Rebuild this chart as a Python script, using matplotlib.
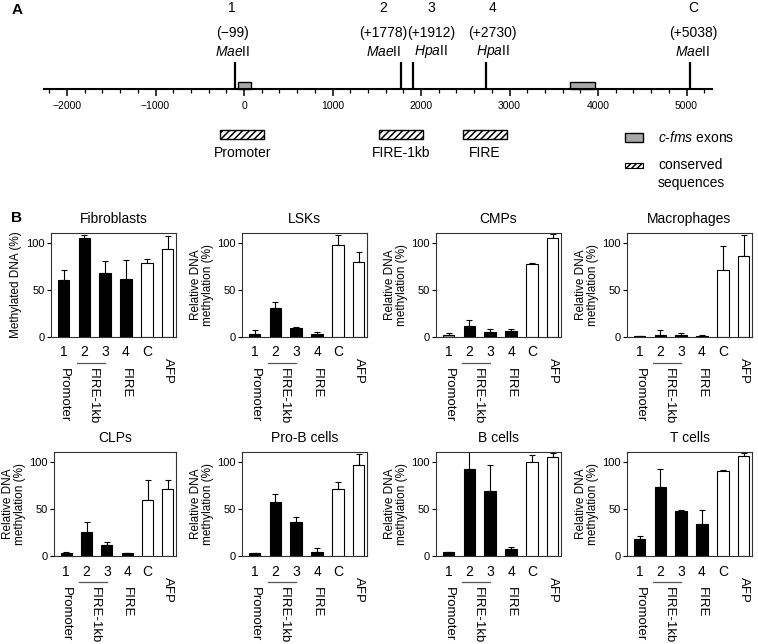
"""c-fms locus map (A) and methylation of the sites in sorted cell types (B)"""
import matplotlib.pyplot as plt
import matplotlib.patches as patches
from matplotlib.ticker import MultipleLocator

plt.rcParams['font.family'] = ['Liberation Sans', 'DejaVu Sans']
plt.rcParams['mathtext.fontset'] = 'custom'
plt.rcParams['mathtext.rm'] = 'Liberation Sans'
plt.rcParams['mathtext.it'] = 'Liberation Sans:italic'
plt.rcParams['hatch.linewidth'] = 1.1

# ============================================================================
# PANEL A DATA - locus map (bp relative to transcription start)
# ============================================================================
site_pos = [-99, 1778, 1912, 2730, 5038]
site_num = ['1', '2', '3', '4', 'C']
site_coord = ['(\u221299)', '(+1778)', '(+1912)', '(+2730)', '(+5038)']
site_enzyme = ['Mae', 'Mae', 'Hpa', 'Hpa', 'Mae']

exon_start = [-70, 3680]
exon_end = [80, 3965]

cons_start = [-270, 1520, 2470]
cons_end = [230, 2020, 2970]
cons_name = ['Promoter', 'FIRE-1kb', 'FIRE']

# ============================================================================
# PANEL B DATA - methylation (%) mean and upper error
# ============================================================================
bar_labels = ['1', '2', '3', '4', 'C', 'AFP']
cell_types = ['Fibroblasts', 'LSKs', 'CMPs', 'Macrophages',
              'CLPs', 'Pro-B cells', 'B cells', 'T cells']

fib_mean = [61, 106, 68, 62, 79, 94]
fib_err = [10, 3, 13, 20, 4, 14]
lsk_mean = [3.6, 30.6, 9.7, 3.6, 97.8, 80]
lsk_err = [3.4, 6.4, 1.1, 1.8, 11, 11]
cmp_mean = [1.8, 11.5, 5.4, 6, 78, 106]
cmp_err = [2.5, 7, 3.6, 3, 1, 4]
mac_mean = [1, 2.5, 2, 1, 71, 86]
mac_err = [0.5, 4.5, 2.3, 1, 26, 23]
clp_mean = [3, 26, 12, 3, 60, 72]
clp_err = [1, 10, 3, 0.6, 21, 9]
prob_mean = [3, 58, 36, 4, 72, 97.5]
prob_err = [0.6, 8, 6, 5, 7, 11.5]
bcell_mean = [4, 93, 69, 8, 100, 106]
bcell_err = [0, 20, 28, 2, 8, 4]
tcell_mean = [18.5, 74, 48, 34, 91, 107]
tcell_err = [2.5, 19, 1, 15, 1, 3]

all_mean = [fib_mean, lsk_mean, cmp_mean, mac_mean,
            clp_mean, prob_mean, bcell_mean, tcell_mean]
all_err = [fib_err, lsk_err, cmp_err, mac_err,
           clp_err, prob_err, bcell_err, tcell_err]

# ============================================================================
# FIGURE (laid out in pixels)
# ============================================================================
W, H = 758, 644
fig = plt.figure(figsize=(W / 100, H / 100), dpi=100)


def px_axes(left, top, right, bottom):
    return fig.add_axes([left / W, 1 - bottom / H, (right - left) / W, (bottom - top) / H])


PT = 0.72  # points per pixel at 100 dpi

# --- PANEL A -----------------------------------------------------------------
axA = px_axes(44, 0, 712, 89)
axA.set_xlim(-2260, 5288)
axA.set_ylim(0, 89)  # y in pixels above the axis line
for s in ['top', 'left', 'right']:
    axA.spines[s].set_visible(False)
axA.spines['bottom'].set_linewidth(1.5)
axA.patch.set_visible(False)
axA.set_yticks([])
axA.xaxis.set_major_locator(MultipleLocator(1000))
axA.xaxis.set_minor_locator(MultipleLocator(200))
axA.tick_params(axis='x', which='major', length=5, width=1.1, pad=3.5, labelsize=7.5)
axA.tick_params(axis='x', which='minor', length=3, width=0.9)

axA.vlines(site_pos, 0, 27, color='k', lw=1.6)
shift_px = [-3, -18, 18, 7, 3]
for pos, num, crd, enz, sh in zip(site_pos, site_num, site_coord, site_enzyme, shift_px):
    for txt, y in [(num, 81), (crd, 56), (r'$\mathit{%s}$II' % enz, 37)]:
        axA.annotate(txt, xy=(pos, y), xytext=(sh * PT, 0), textcoords='offset points',
                     ha='center', va='center', fontsize=10, annotation_clip=False)

for a, b in zip(exon_start, exon_end):
    axA.add_patch(patches.Rectangle((a, 0), b - a, 7, facecolor='#a8a8a8',
                                    edgecolor='k', lw=1, clip_on=False))

for a, b, name in zip(cons_start, cons_end, cons_name):
    axA.add_patch(patches.Rectangle((a, -50), b - a, 9, facecolor='white', edgecolor='k',
                                    hatch='/////', lw=1, clip_on=False))
    axA.text((a + b) / 2, -64, name, ha='center', va='center', fontsize=10)

# legend (pixel layout converted to data)
def bp(xpx):
    return (xpx - 244) / 0.0885

axA.add_patch(patches.Rectangle((bp(625), -53), bp(643) - bp(625), 9, facecolor='#a8a8a8',
                                edgecolor='k', lw=1, clip_on=False))
axA.text(bp(658), -48, r'$\mathit{c}$-$\mathit{fms}$ exons', ha='left', va='center', fontsize=10)
axA.add_patch(patches.Rectangle((bp(625), -79), bp(643) - bp(625), 5, facecolor='white',
                                edgecolor='k', hatch='//////', lw=0.8, clip_on=False))
axA.text(bp(658), -85, 'conserved\nsequences', ha='left', va='center', fontsize=10,
         linespacing=1.3)

fig.text(17 / W, 1 - 10 / H, 'A', fontsize=11, fontweight='bold', ha='center', va='center')
fig.text(17 / W, 1 - 218 / H, 'B', fontsize=11, fontweight='bold', ha='center', va='center')

# --- PANEL B -----------------------------------------------------------------
col_left = [51, 242, 436, 627]
row_top = [233, 452]
ax_w, ax_h = 125, 104
x = list(range(6))

for k, (title, mean, err) in enumerate(zip(cell_types, all_mean, all_err)):
    r, c = divmod(k, 4)
    left = col_left[c] + (3 if (r == 1 and c == 0) else 0)
    ax = px_axes(left, row_top[r], left + ax_w - (left - col_left[c]), row_top[r] + ax_h)
    colors = ['k', 'k', 'k', 'k', 'white', 'white']
    if title == 'CMPs':
        colors[0] = '#9a9a9a'
    ax.bar(x, mean, width=0.55, color=colors, edgecolor='k', lw=0.8, zorder=2)
    ax.errorbar(x, mean, yerr=[[0] * 6, err], fmt='none', ecolor='k',
                elinewidth=0.8, capsize=2, capthick=0.8, zorder=1)
    ax.set_xlim(-0.6, 5.4)
    ax.set_ylim(0, 111)
    ax.set_yticks([0, 50, 100])
    ax.set_xticks([])
    ax.tick_params(axis='y', length=3, width=0.8, pad=1.5, labelsize=8)
    for s in ax.spines.values():
        s.set_linewidth(0.8)
        s.set_color('#333333')
    ax.set_title(title, fontsize=10, pad=7)
    if title == 'Fibroblasts':
        ax.set_ylabel('Methylated DNA (%)', fontsize=8.5, labelpad=3)
    else:
        ax.set_ylabel('Relative DNA\nmethylation (%)', fontsize=8.5, labelpad=2,
                      linespacing=1.0)

    for i, lab in enumerate(bar_labels):
        if lab == 'AFP':
            ax.annotate(lab, xy=(i, 0), xycoords=('data', 'axes fraction'),
                        xytext=(0, -21 * PT), textcoords='offset points',
                        ha='center', va='top', rotation=-90, fontsize=9.5)
        else:
            ax.annotate(lab, xy=(i, 0), xycoords=('data', 'axes fraction'),
                        xytext=(0, -8.5 * PT), textcoords='offset points',
                        ha='center', va='top', fontsize=10)
    ax.plot([0.65, 2.0], [-26 / ax_h] * 2, color='#555555', lw=0.9,
            transform=ax.get_xaxis_transform(), clip_on=False)
    for xp, name in zip([0, 1.4, 3], cons_name):
        ax.annotate(name, xy=(xp, 0), xycoords=('data', 'axes fraction'),
                    xytext=(0, -31 * PT), textcoords='offset points',
                    ha='center', va='top', rotation=-90, fontsize=9.5)

fig.savefig('out.png', dpi=100)
